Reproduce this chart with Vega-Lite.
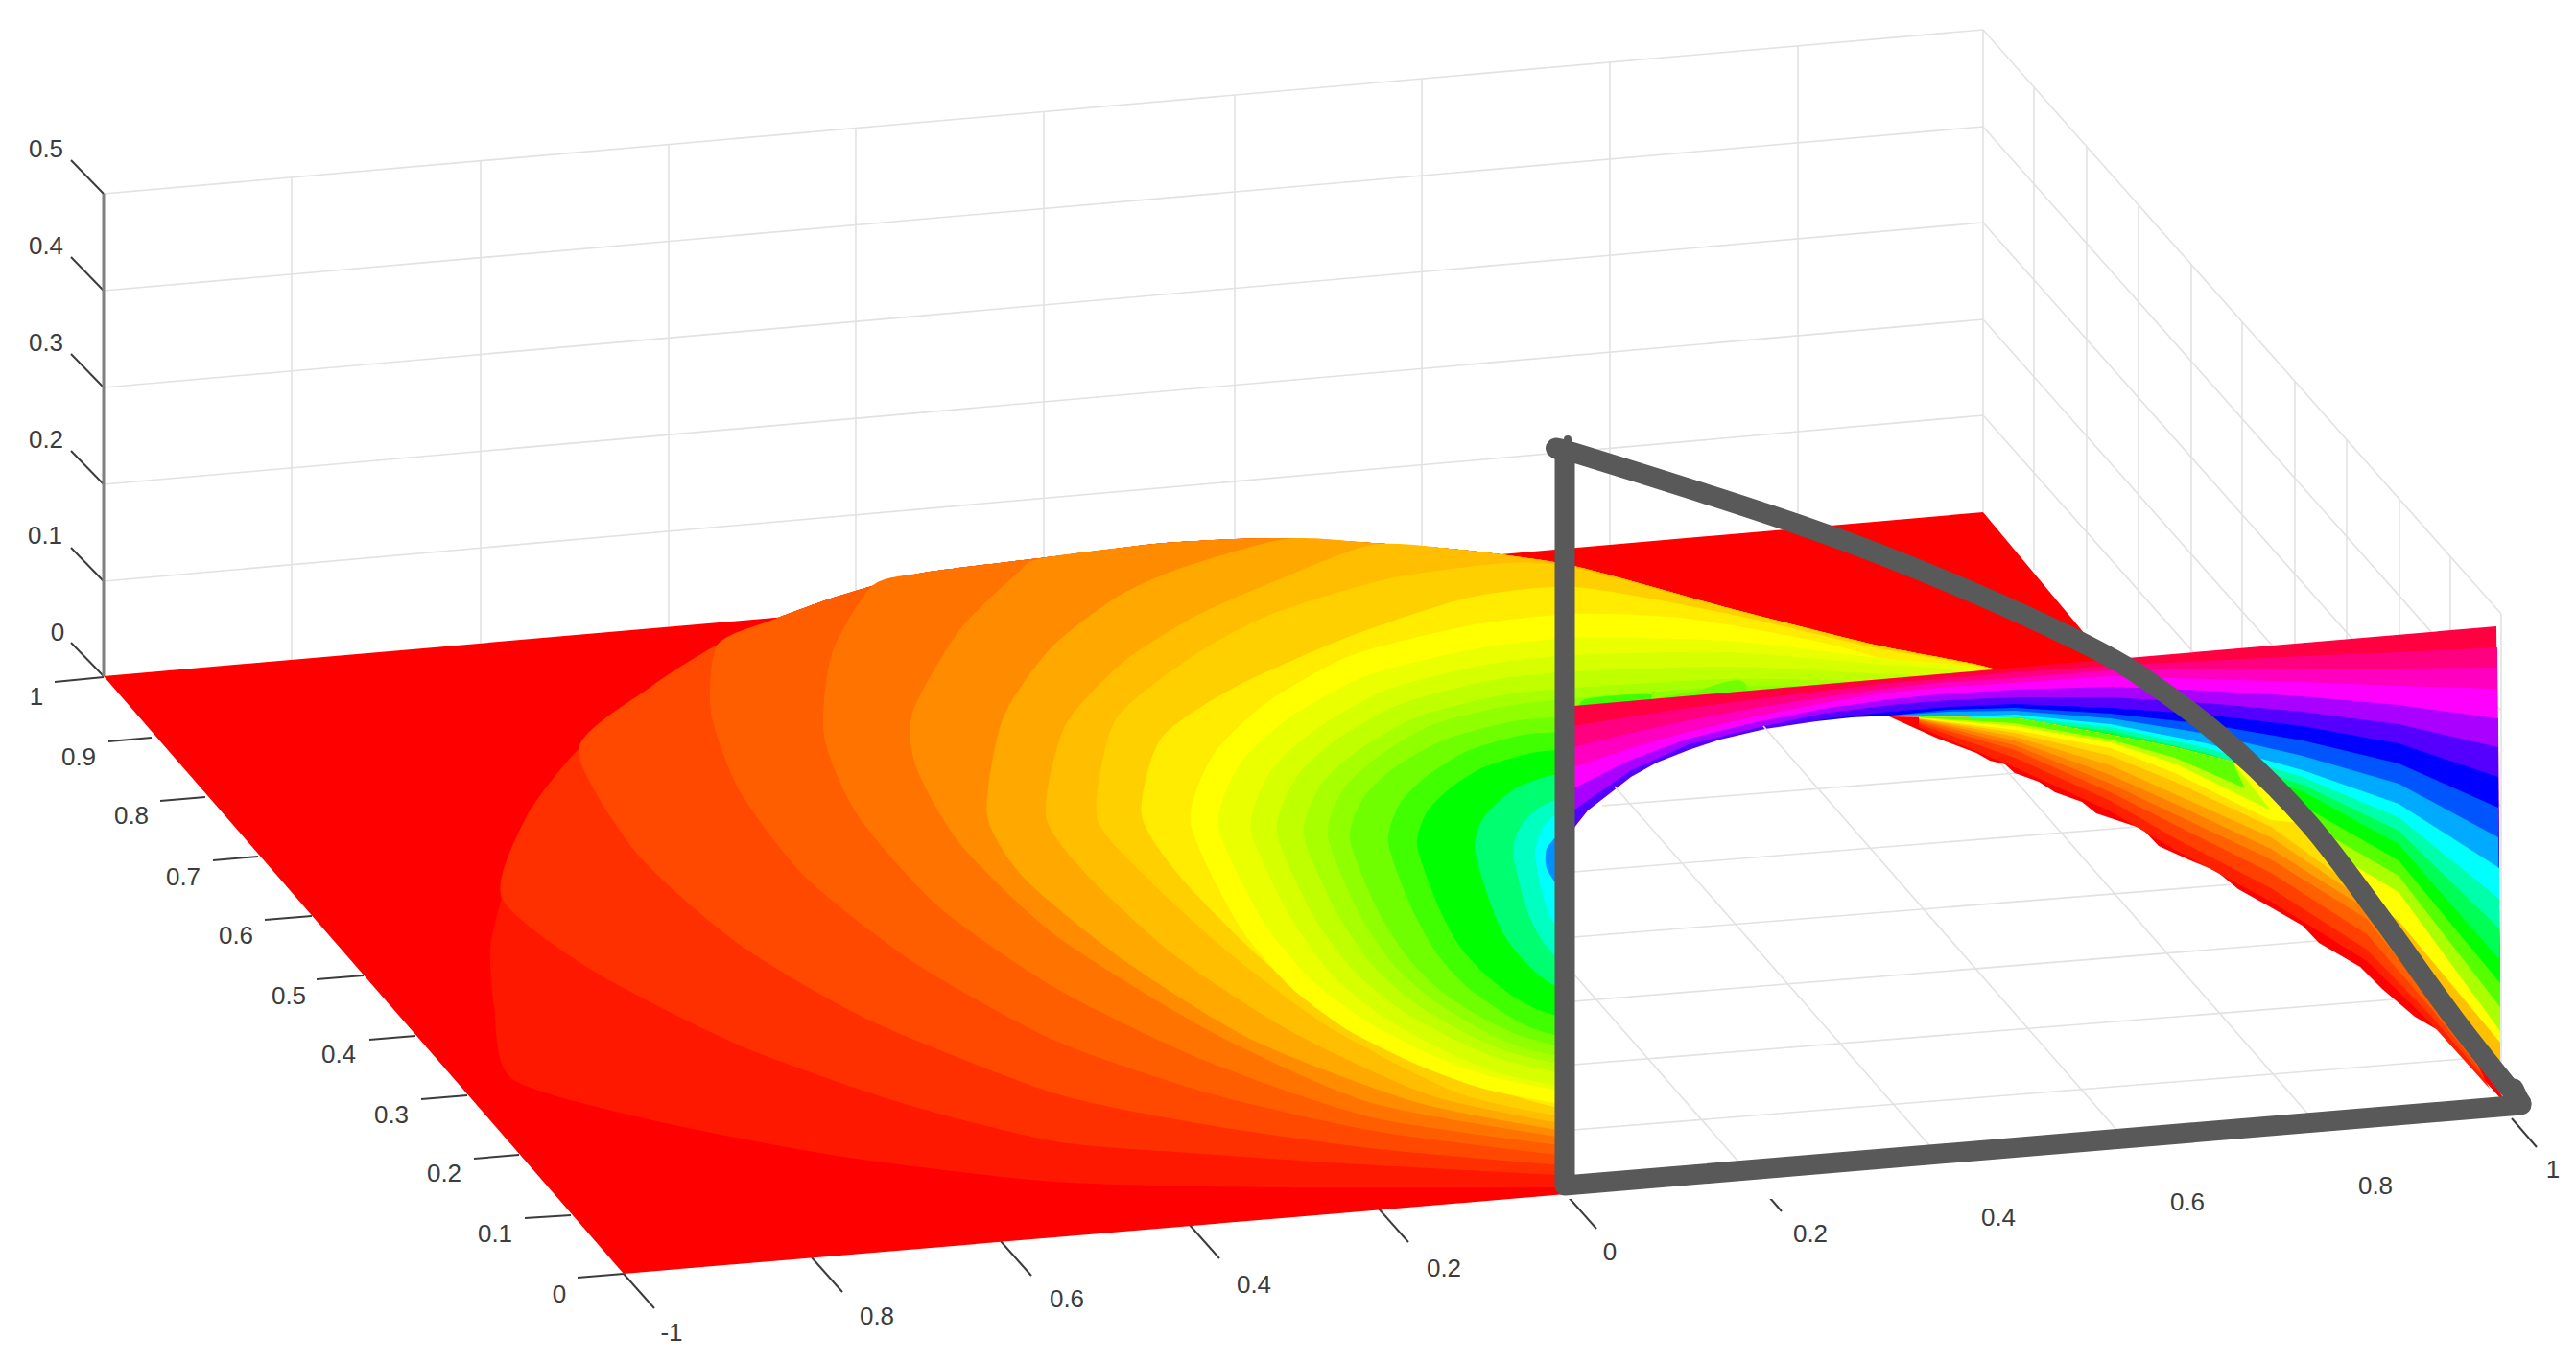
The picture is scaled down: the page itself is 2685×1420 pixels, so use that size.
{
"$schema":"https://vega.github.io/schema/vega-lite/v6.json",
"width":2685,"height":1420,"padding":0,"autosize":{"type":"fit","contains":"padding"},"background":"white",
"config":{"view":{"stroke":null}},
"datasets":{
"wallGrid":[
{"g":"z1","x":108,"y":606},{"g":"z1","x":2067,"y":433},{"g":"z1","x":2607,"y":1042},
{"g":"z2","x":108,"y":505},{"g":"z2","x":2067,"y":333},{"g":"z2","x":2607,"y":942},
{"g":"z3","x":108,"y":404},{"g":"z3","x":2067,"y":232},{"g":"z3","x":2607,"y":841},
{"g":"z4","x":108,"y":303},{"g":"z4","x":2067,"y":132},{"g":"z4","x":2607,"y":741},
{"g":"z5","x":108,"y":202},{"g":"z5","x":2067,"y":31},{"g":"z5","x":2607,"y":640},
{"g":"v1","x":304,"y":185},{"g":"v1","x":304,"y":688},
{"g":"v2","x":501,"y":168},{"g":"v2","x":501,"y":671},
{"g":"v3","x":697,"y":151},{"g":"v3","x":697,"y":654},
{"g":"v4","x":892,"y":134},{"g":"v4","x":892,"y":637},
{"g":"v5","x":1088,"y":116},{"g":"v5","x":1088,"y":619},
{"g":"v6","x":1287,"y":99},{"g":"v6","x":1287,"y":602},
{"g":"v7","x":1482,"y":82},{"g":"v7","x":1482,"y":585},
{"g":"v8","x":1678,"y":65},{"g":"v8","x":1678,"y":568},
{"g":"v9","x":1874,"y":48},{"g":"v9","x":1874,"y":551},
{"g":"v10","x":2067,"y":31},{"g":"v10","x":2067,"y":534},
{"g":"r1","x":2120,"y":91},{"g":"r1","x":2120,"y":594},
{"g":"r2","x":2175,"y":153},{"g":"r2","x":2175,"y":656},
{"g":"r3","x":2229,"y":214},{"g":"r3","x":2229,"y":717},
{"g":"r4","x":2284,"y":276},{"g":"r4","x":2284,"y":779},
{"g":"r5","x":2337,"y":336},{"g":"r5","x":2337,"y":839},
{"g":"r6","x":2392,"y":398},{"g":"r6","x":2392,"y":901},
{"g":"r7","x":2446,"y":459},{"g":"r7","x":2446,"y":962},
{"g":"r8","x":2501,"y":521},{"g":"r8","x":2501,"y":1024},
{"g":"r9","x":2554,"y":580},{"g":"r9","x":2554,"y":1083},
{"g":"r10","x":2607,"y":640},{"g":"r10","x":2607,"y":1143}
],
"holeGrid":[
{"g":"a2","x":1825,"y":1226},{"g":"a2","x":1640,"y":1015},
{"g":"a4","x":2025,"y":1210},{"g":"a4","x":1683,"y":820},
{"g":"a6","x":2222,"y":1196},{"g":"a6","x":1838,"y":757},
{"g":"a8","x":2422,"y":1180},{"g":"a8","x":2049,"y":755},
{"g":"b1","x":1640,"y":1178},{"g":"b1","x":2580,"y":1103},
{"g":"b2","x":1640,"y":1110},{"g":"b2","x":2520,"y":1040},
{"g":"b3","x":1640,"y":1044},{"g":"b3","x":2440,"y":979},
{"g":"b4","x":1640,"y":977},{"g":"b4","x":2340,"y":921},
{"g":"b5","x":1640,"y":909},{"g":"b5","x":2240,"y":861},
{"g":"b6","x":1670,"y":840},{"g":"b6","x":2140,"y":803}
],
"ticks":[
{"g":"t5","x":108,"y":202},{"g":"t5","x":74,"y":167},
{"g":"t4","x":108,"y":303},{"g":"t4","x":74,"y":268},
{"g":"t3","x":108,"y":404},{"g":"t3","x":74,"y":369},
{"g":"t2","x":108,"y":505},{"g":"t2","x":74,"y":470},
{"g":"t1","x":108,"y":606},{"g":"t1","x":74,"y":571},
{"g":"t0","x":108,"y":705},{"g":"t0","x":74,"y":670},
{"g":"y10","x":108,"y":706},{"g":"y10","x":57,"y":711},
{"g":"y9","x":158,"y":769},{"g":"y9","x":113,"y":773},
{"g":"y8","x":214,"y":831},{"g":"y8","x":167,"y":835},
{"g":"y7","x":269,"y":893},{"g":"y7","x":222,"y":897},
{"g":"y6","x":325,"y":955},{"g":"y6","x":276,"y":959},
{"g":"y5","x":379,"y":1017},{"g":"y5","x":330,"y":1021},
{"g":"y4","x":433,"y":1080},{"g":"y4","x":385,"y":1084},
{"g":"y3","x":487,"y":1142},{"g":"y3","x":439,"y":1146},
{"g":"y2","x":541,"y":1204},{"g":"y2","x":494,"y":1208},
{"g":"y1","x":595,"y":1267},{"g":"y1","x":547,"y":1270},
{"g":"y0","x":650,"y":1328},{"g":"y0","x":602,"y":1332},
{"g":"x0","x":650,"y":1328},{"g":"x0","x":682,"y":1364},
{"g":"x1","x":846,"y":1311},{"g":"x1","x":878,"y":1347},
{"g":"x2","x":1043,"y":1294},{"g":"x2","x":1075,"y":1330},
{"g":"x3","x":1239,"y":1276},{"g":"x3","x":1271,"y":1312},
{"g":"x4","x":1436,"y":1259},{"g":"x4","x":1468,"y":1295},
{"g":"x5","x":1632,"y":1245},{"g":"x5","x":1664,"y":1281},
{"g":"x6","x":1825,"y":1226},{"g":"x6","x":1857,"y":1263},
{"g":"x7","x":2025,"y":1210},{"g":"x7","x":2057,"y":1247},
{"g":"x8","x":2222,"y":1196},{"g":"x8","x":2254,"y":1233},
{"g":"x9","x":2422,"y":1180},{"g":"x9","x":2454,"y":1217},
{"g":"x10","x":2618,"y":1166},{"g":"x10","x":2644,"y":1196}
],
"floor":[{"x":108,"y":705},{"x":2067,"y":534},{"x":2300,"y":813},{"x":1650,"y":1200},{"x":1632,"y":1245},{"x":650,"y":1328}],
"disc":[
{"level":"d01","x":1642,"y":1238},{"level":"d01","x":1330,"y":1238},{"level":"d01","x":1100,"y":1232},{"level":"d01","x":879,"y":1206},{"level":"d01","x":680,"y":1168},{"level":"d01","x":534,"y":1125},{"level":"d01","x":515,"y":1050},{"level":"d01","x":511,"y":988},{"level":"d01","x":523,"y":936},{"level":"d01","x":549,"y":851},{"level":"d01","x":603,"y":781},{"level":"d01","x":680,"y":715},{"level":"d01","x":748,"y":672},{"level":"d01","x":806,"y":646},{"level":"d01","x":863,"y":625},{"level":"d01","x":909,"y":611},{"level":"d01","x":963,"y":597},{"level":"d01","x":1100,"y":580},{"level":"d01","x":1215,"y":566},{"level":"d01","x":1330,"y":561},{"level":"d01","x":1430,"y":566},{"level":"d01","x":1521,"y":573},{"level":"d01","x":1640,"y":590},{"level":"d01","x":1802,"y":634},{"level":"d01","x":1953,"y":672},{"level":"d01","x":2082,"y":699},{"level":"d01","x":2082,"y":730},{"level":"d01","x":1700,"y":1000},
{"level":"d02","x":1642,"y":1226},{"level":"d02","x":1437,"y":1215},{"level":"d02","x":1254,"y":1203},{"level":"d02","x":1100,"y":1190},{"level":"d02","x":940,"y":1150},{"level":"d02","x":771,"y":1090},{"level":"d02","x":618,"y":1012},{"level":"d02","x":523,"y":936},{"level":"d02","x":549,"y":851},{"level":"d02","x":603,"y":781},{"level":"d02","x":680,"y":715},{"level":"d02","x":748,"y":672},{"level":"d02","x":806,"y":646},{"level":"d02","x":863,"y":625},{"level":"d02","x":909,"y":611},{"level":"d02","x":963,"y":597},{"level":"d02","x":1100,"y":580},{"level":"d02","x":1215,"y":566},{"level":"d02","x":1330,"y":561},{"level":"d02","x":1430,"y":566},{"level":"d02","x":1521,"y":573},{"level":"d02","x":1640,"y":590},{"level":"d02","x":1802,"y":634},{"level":"d02","x":1953,"y":672},{"level":"d02","x":2082,"y":699},{"level":"d02","x":2082,"y":730},{"level":"d02","x":1700,"y":1000},
{"level":"d03","x":1642,"y":1216},{"level":"d03","x":1437,"y":1198},{"level":"d03","x":1254,"y":1172},{"level":"d03","x":1100,"y":1140},{"level":"d03","x":909,"y":1065},{"level":"d03","x":771,"y":985},{"level":"d03","x":664,"y":890},{"level":"d03","x":603,"y":781},{"level":"d03","x":680,"y":715},{"level":"d03","x":748,"y":672},{"level":"d03","x":806,"y":646},{"level":"d03","x":863,"y":625},{"level":"d03","x":909,"y":611},{"level":"d03","x":963,"y":597},{"level":"d03","x":1100,"y":580},{"level":"d03","x":1215,"y":566},{"level":"d03","x":1330,"y":561},{"level":"d03","x":1430,"y":566},{"level":"d03","x":1521,"y":573},{"level":"d03","x":1640,"y":590},{"level":"d03","x":1802,"y":634},{"level":"d03","x":1953,"y":672},{"level":"d03","x":2082,"y":699},{"level":"d03","x":2082,"y":730},{"level":"d03","x":1700,"y":1000},
{"level":"d04","x":1642,"y":1206},{"level":"d04","x":1437,"y":1180},{"level":"d04","x":1261,"y":1140},{"level":"d04","x":1100,"y":1085},{"level":"d04","x":955,"y":1005},{"level":"d04","x":840,"y":915},{"level":"d04","x":771,"y":825},{"level":"d04","x":741,"y":743},{"level":"d04","x":748,"y":672},{"level":"d04","x":806,"y":646},{"level":"d04","x":863,"y":625},{"level":"d04","x":909,"y":611},{"level":"d04","x":963,"y":597},{"level":"d04","x":1100,"y":580},{"level":"d04","x":1215,"y":566},{"level":"d04","x":1330,"y":561},{"level":"d04","x":1430,"y":566},{"level":"d04","x":1521,"y":573},{"level":"d04","x":1640,"y":590},{"level":"d04","x":1802,"y":634},{"level":"d04","x":1953,"y":672},{"level":"d04","x":2082,"y":699},{"level":"d04","x":2082,"y":730},{"level":"d04","x":1700,"y":1000},
{"level":"d05","x":1642,"y":1196},{"level":"d05","x":1430,"y":1165},{"level":"d05","x":1254,"y":1105},{"level":"d05","x":1100,"y":1030},{"level":"d05","x":978,"y":945},{"level":"d05","x":894,"y":850},{"level":"d05","x":859,"y":767},{"level":"d05","x":867,"y":682},{"level":"d05","x":909,"y":611},{"level":"d05","x":963,"y":597},{"level":"d05","x":1100,"y":580},{"level":"d05","x":1215,"y":566},{"level":"d05","x":1330,"y":561},{"level":"d05","x":1430,"y":566},{"level":"d05","x":1521,"y":573},{"level":"d05","x":1640,"y":590},{"level":"d05","x":1802,"y":634},{"level":"d05","x":1953,"y":672},{"level":"d05","x":2082,"y":699},{"level":"d05","x":2082,"y":730},{"level":"d05","x":1700,"y":1000},
{"level":"d06","x":1642,"y":1188},{"level":"d06","x":1430,"y":1150},{"level":"d06","x":1261,"y":1075},{"level":"d06","x":1100,"y":975},{"level":"d06","x":1001,"y":880},{"level":"d06","x":955,"y":800},{"level":"d06","x":951,"y":743},{"level":"d06","x":1000,"y":657},{"level":"d06","x":1061,"y":597},{"level":"d06","x":1086,"y":582},{"level":"d06","x":1215,"y":566},{"level":"d06","x":1330,"y":561},{"level":"d06","x":1430,"y":566},{"level":"d06","x":1521,"y":573},{"level":"d06","x":1640,"y":590},{"level":"d06","x":1802,"y":634},{"level":"d06","x":1953,"y":672},{"level":"d06","x":2082,"y":699},{"level":"d06","x":2082,"y":730},{"level":"d06","x":1700,"y":1000},
{"level":"d07","x":1642,"y":1181},{"level":"d07","x":1479,"y":1150},{"level":"d07","x":1307,"y":1085},{"level":"d07","x":1177,"y":1005},{"level":"d07","x":1070,"y":918},{"level":"d07","x":1029,"y":850},{"level":"d07","x":1045,"y":750},{"level":"d07","x":1094,"y":677},{"level":"d07","x":1163,"y":623},{"level":"d07","x":1229,"y":593},{"level":"d07","x":1339,"y":562},{"level":"d07","x":1430,"y":566},{"level":"d07","x":1521,"y":573},{"level":"d07","x":1640,"y":590},{"level":"d07","x":1802,"y":634},{"level":"d07","x":1953,"y":672},{"level":"d07","x":2082,"y":699},{"level":"d07","x":2082,"y":730},{"level":"d07","x":1700,"y":1000},
{"level":"d08","x":1642,"y":1174},{"level":"d08","x":1491,"y":1142},{"level":"d08","x":1345,"y":1075},{"level":"d08","x":1223,"y":995},{"level":"d08","x":1131,"y":910},{"level":"d08","x":1090,"y":850},{"level":"d08","x":1110,"y":757},{"level":"d08","x":1171,"y":690},{"level":"d08","x":1245,"y":643},{"level":"d08","x":1326,"y":607},{"level":"d08","x":1430,"y":568},{"level":"d08","x":1521,"y":573},{"level":"d08","x":1640,"y":590},{"level":"d08","x":1802,"y":634},{"level":"d08","x":1953,"y":672},{"level":"d08","x":2082,"y":699},{"level":"d08","x":2082,"y":730},{"level":"d08","x":1700,"y":1000},
{"level":"d09","x":1642,"y":1167},{"level":"d09","x":1521,"y":1140},{"level":"d09","x":1384,"y":1070},{"level":"d09","x":1277,"y":990},{"level":"d09","x":1185,"y":905},{"level":"d09","x":1143,"y":850},{"level":"d09","x":1163,"y":750},{"level":"d09","x":1245,"y":683},{"level":"d09","x":1326,"y":640},{"level":"d09","x":1449,"y":603},{"level":"d09","x":1571,"y":587},{"level":"d09","x":1640,"y":592},{"level":"d09","x":1802,"y":634},{"level":"d09","x":1953,"y":672},{"level":"d09","x":2082,"y":699},{"level":"d09","x":2082,"y":730},{"level":"d09","x":1700,"y":1000},
{"level":"d10","x":1642,"y":1160},{"level":"d10","x":1537,"y":1130},{"level":"d10","x":1414,"y":1075},{"level":"d10","x":1315,"y":1000},{"level":"d10","x":1231,"y":915},{"level":"d10","x":1190,"y":850},{"level":"d10","x":1210,"y":770},{"level":"d10","x":1286,"y":717},{"level":"d10","x":1408,"y":663},{"level":"d10","x":1531,"y":623},{"level":"d10","x":1642,"y":612},{"level":"d10","x":1802,"y":640},{"level":"d10","x":1953,"y":675},{"level":"d10","x":2082,"y":699},{"level":"d10","x":2082,"y":730},{"level":"d10","x":1700,"y":1000},
{"level":"d11","x":1642,"y":1154},{"level":"d11","x":1550,"y":1136},{"level":"d11","x":1482,"y":1112},{"level":"d11","x":1405,"y":1074},{"level":"d11","x":1343,"y":1027},{"level":"d11","x":1289,"y":961},{"level":"d11","x":1241,"y":858},{"level":"d11","x":1265,"y":786},{"level":"d11","x":1321,"y":732},{"level":"d11","x":1409,"y":683},{"level":"d11","x":1532,"y":652},{"level":"d11","x":1642,"y":640},{"level":"d11","x":1760,"y":645},{"level":"d11","x":1900,"y":670},{"level":"d11","x":1980,"y":695},{"level":"d11","x":1980,"y":730},{"level":"d11","x":1700,"y":1000},
{"level":"d12","x":1642,"y":1140},{"level":"d12","x":1556,"y":1123},{"level":"d12","x":1493,"y":1100},{"level":"d12","x":1423,"y":1064},{"level":"d12","x":1365,"y":1020},{"level":"d12","x":1315,"y":958},{"level":"d12","x":1270,"y":862},{"level":"d12","x":1292,"y":797},{"level":"d12","x":1344,"y":748},{"level":"d12","x":1426,"y":704},{"level":"d12","x":1540,"y":676},{"level":"d12","x":1642,"y":665},{"level":"d12","x":1800,"y":668},{"level":"d12","x":1950,"y":685},{"level":"d12","x":2060,"y":697},{"level":"d12","x":2060,"y":730},{"level":"d12","x":1700,"y":1000},
{"level":"d13","x":1642,"y":1135},{"level":"d13","x":1564,"y":1119},{"level":"d13","x":1507,"y":1096},{"level":"d13","x":1443,"y":1061},{"level":"d13","x":1390,"y":1018},{"level":"d13","x":1345,"y":956},{"level":"d13","x":1304,"y":865},{"level":"d13","x":1324,"y":805},{"level":"d13","x":1372,"y":760},{"level":"d13","x":1446,"y":719},{"level":"d13","x":1549,"y":693},{"level":"d13","x":1642,"y":683},{"level":"d13","x":1800,"y":680},{"level":"d13","x":1950,"y":692},{"level":"d13","x":2040,"y":700},{"level":"d13","x":2040,"y":730},{"level":"d13","x":1700,"y":1000},
{"level":"d14","x":1642,"y":1122},{"level":"d14","x":1570,"y":1106},{"level":"d14","x":1518,"y":1085},{"level":"d14","x":1459,"y":1052},{"level":"d14","x":1410,"y":1011},{"level":"d14","x":1368,"y":953},{"level":"d14","x":1331,"y":868},{"level":"d14","x":1350,"y":812},{"level":"d14","x":1393,"y":771},{"level":"d14","x":1462,"y":733},{"level":"d14","x":1556,"y":709},{"level":"d14","x":1642,"y":700},{"level":"d14","x":1800,"y":695},{"level":"d14","x":1950,"y":702},{"level":"d14","x":2000,"y":706},{"level":"d14","x":2000,"y":735},{"level":"d14","x":1700,"y":1000},
{"level":"d15","x":1642,"y":1113},{"level":"d15","x":1577,"y":1098},{"level":"d15","x":1529,"y":1078},{"level":"d15","x":1475,"y":1046},{"level":"d15","x":1431,"y":1007},{"level":"d15","x":1393,"y":951},{"level":"d15","x":1359,"y":871},{"level":"d15","x":1376,"y":819},{"level":"d15","x":1416,"y":782},{"level":"d15","x":1478,"y":747},{"level":"d15","x":1564,"y":725},{"level":"d15","x":1642,"y":717},{"level":"d15","x":1800,"y":708},{"level":"d15","x":1950,"y":712},{"level":"d15","x":1950,"y":735},{"level":"d15","x":1700,"y":1000},
{"level":"d16","x":1642,"y":1105},{"level":"d16","x":1583,"y":1091},{"level":"d16","x":1539,"y":1071},{"level":"d16","x":1490,"y":1040},{"level":"d16","x":1450,"y":1003},{"level":"d16","x":1415,"y":949},{"level":"d16","x":1384,"y":872},{"level":"d16","x":1399,"y":824},{"level":"d16","x":1436,"y":789},{"level":"d16","x":1492,"y":756},{"level":"d16","x":1571,"y":736},{"level":"d16","x":1642,"y":728},{"level":"d16","x":1800,"y":716},{"level":"d16","x":1880,"y":716},{"level":"d16","x":1880,"y":735},{"level":"d16","x":1700,"y":1000},
{"level":"d17","x":1642,"y":1095},{"level":"d17","x":1588,"y":1081},{"level":"d17","x":1548,"y":1063},{"level":"d17","x":1503,"y":1034},{"level":"d17","x":1467,"y":998},{"level":"d17","x":1435,"y":947},{"level":"d17","x":1407,"y":875},{"level":"d17","x":1421,"y":832},{"level":"d17","x":1454,"y":800},{"level":"d17","x":1506,"y":771},{"level":"d17","x":1577,"y":752},{"level":"d17","x":1642,"y":745},{"level":"d17","x":1760,"y":722},{"level":"d17","x":1820,"y":725},{"level":"d17","x":1700,"y":1000},
{"level":"d18","x":1642,"y":1085},{"level":"d18","x":1597,"y":1072},{"level":"d18","x":1564,"y":1054},{"level":"d18","x":1527,"y":1027},{"level":"d18","x":1497,"y":993},{"level":"d18","x":1470,"y":944},{"level":"d18","x":1447,"y":878},{"level":"d18","x":1459,"y":838},{"level":"d18","x":1486,"y":810},{"level":"d18","x":1529,"y":783},{"level":"d18","x":1588,"y":766},{"level":"d18","x":1642,"y":760},{"level":"d18","x":1650,"y":730},{"level":"d18","x":1720,"y":724},{"level":"d18","x":1720,"y":740},{"level":"d18","x":1700,"y":1000},
{"level":"d19","x":1642,"y":1065},{"level":"d19","x":1604,"y":1053},{"level":"d19","x":1576,"y":1038},{"level":"d19","x":1545,"y":1013},{"level":"d19","x":1519,"y":983},{"level":"d19","x":1497,"y":940},{"level":"d19","x":1477,"y":881},{"level":"d19","x":1487,"y":847},{"level":"d19","x":1510,"y":823},{"level":"d19","x":1546,"y":800},{"level":"d19","x":1597,"y":785},{"level":"d19","x":1642,"y":780},
{"level":"d20","x":1642,"y":1035},{"level":"d20","x":1618,"y":1026},{"level":"d20","x":1600,"y":1013},{"level":"d20","x":1580,"y":992},{"level":"d20","x":1564,"y":968},{"level":"d20","x":1550,"y":932},{"level":"d20","x":1537,"y":885},{"level":"d20","x":1543,"y":858},{"level":"d20","x":1558,"y":839},{"level":"d20","x":1581,"y":821},{"level":"d20","x":1613,"y":809},{"level":"d20","x":1642,"y":805},
{"level":"d21","x":1642,"y":1010},{"level":"d21","x":1627,"y":1002},{"level":"d21","x":1616,"y":992},{"level":"d21","x":1604,"y":975},{"level":"d21","x":1594,"y":955},{"level":"d21","x":1585,"y":926},{"level":"d21","x":1577,"y":889},{"level":"d21","x":1581,"y":869},{"level":"d21","x":1590,"y":855},{"level":"d21","x":1604,"y":842},{"level":"d21","x":1624,"y":833},{"level":"d21","x":1642,"y":830},
{"level":"d22","x":1642,"y":985},{"level":"d22","x":1632,"y":979},{"level":"d22","x":1625,"y":971},{"level":"d22","x":1617,"y":958},{"level":"d22","x":1611,"y":943},{"level":"d22","x":1605,"y":920},{"level":"d22","x":1600,"y":891},{"level":"d22","x":1603,"y":875},{"level":"d22","x":1608,"y":863},{"level":"d22","x":1618,"y":852},{"level":"d22","x":1630,"y":846},{"level":"d22","x":1642,"y":843},
{"level":"d23","x":1642,"y":935},{"level":"d23","x":1625,"y":925},{"level":"d23","x":1612,"y":905},{"level":"d23","x":1612,"y":885},{"level":"d23","x":1625,"y":870},{"level":"d23","x":1642,"y":862}
],
"wall":[
{"level":"w00","x":1640,"y":736},{"level":"w00","x":2100,"y":696},{"level":"w00","x":2602,"y":653},{"level":"w00","x":2606,"y":1110},{"level":"w00","x":1640,"y":1110},
{"level":"w01","x":1640,"y":757},{"level":"w01","x":1700,"y":747},{"level":"w01","x":1760,"y":738},{"level":"w01","x":1830,"y":729},{"level":"w01","x":1900,"y":720},{"level":"w01","x":1970,"y":712},{"level":"w01","x":2030,"y":707},{"level":"w01","x":2100,"y":701},{"level":"w01","x":2200,"y":694},{"level":"w01","x":2300,"y":689},{"level":"w01","x":2400,"y":684},{"level":"w01","x":2500,"y":680},{"level":"w01","x":2603,"y":675},{"level":"w01","x":2606,"y":1110},{"level":"w01","x":1640,"y":1110},
{"level":"w02","x":1640,"y":779},{"level":"w02","x":1700,"y":764},{"level":"w02","x":1760,"y":751},{"level":"w02","x":1830,"y":738},{"level":"w02","x":1900,"y":727},{"level":"w02","x":1970,"y":717},{"level":"w02","x":2030,"y":711},{"level":"w02","x":2100,"y":707},{"level":"w02","x":2200,"y":699},{"level":"w02","x":2300,"y":698},{"level":"w02","x":2400,"y":697},{"level":"w02","x":2500,"y":697},{"level":"w02","x":2603,"y":696},{"level":"w02","x":2606,"y":1110},{"level":"w02","x":1640,"y":1110},
{"level":"w03","x":1640,"y":800},{"level":"w03","x":1700,"y":780},{"level":"w03","x":1760,"y":763},{"level":"w03","x":1830,"y":747},{"level":"w03","x":1900,"y":733},{"level":"w03","x":1970,"y":722},{"level":"w03","x":2030,"y":716},{"level":"w03","x":2100,"y":712},{"level":"w03","x":2200,"y":705},{"level":"w03","x":2300,"y":708},{"level":"w03","x":2400,"y":711},{"level":"w03","x":2500,"y":715},{"level":"w03","x":2603,"y":718},{"level":"w03","x":2606,"y":1110},{"level":"w03","x":1640,"y":1110},
{"level":"w04","x":1640,"y":822},{"level":"w04","x":1700,"y":792},{"level":"w04","x":1760,"y":770},{"level":"w04","x":1830,"y":753},{"level":"w04","x":1900,"y":739},{"level":"w04","x":1970,"y":729},{"level":"w04","x":2030,"y":723},{"level":"w04","x":2100,"y":719},{"level":"w04","x":2200,"y":716},{"level":"w04","x":2300,"y":720},{"level":"w04","x":2400,"y":726},{"level":"w04","x":2500,"y":735},{"level":"w04","x":2604,"y":749},{"level":"w04","x":2606,"y":1110},{"level":"w04","x":1640,"y":1110},
{"level":"w05","x":1640,"y":845},{"level":"w05","x":1700,"y":803},{"level":"w05","x":1760,"y":776},{"level":"w05","x":1830,"y":759},{"level":"w05","x":1900,"y":744},{"level":"w05","x":1970,"y":735},{"level":"w05","x":2030,"y":730},{"level":"w05","x":2100,"y":727},{"level":"w05","x":2200,"y":727},{"level":"w05","x":2300,"y":733},{"level":"w05","x":2400,"y":742},{"level":"w05","x":2500,"y":755},{"level":"w05","x":2604,"y":779},{"level":"w05","x":2606,"y":1110},{"level":"w05","x":1640,"y":1110},
{"level":"w06","x":1640,"y":867},{"level":"w06","x":1700,"y":815},{"level":"w06","x":1760,"y":783},{"level":"w06","x":1830,"y":765},{"level":"w06","x":1900,"y":750},{"level":"w06","x":1970,"y":742},{"level":"w06","x":2030,"y":737},{"level":"w06","x":2100,"y":734},{"level":"w06","x":2200,"y":738},{"level":"w06","x":2300,"y":745},{"level":"w06","x":2400,"y":757},{"level":"w06","x":2500,"y":775},{"level":"w06","x":2604,"y":810},{"level":"w06","x":2606,"y":1110},{"level":"w06","x":1640,"y":1110},
{"level":"w07","x":1960,"y":747},{"level":"w07","x":2030,"y":740},{"level":"w07","x":2100,"y":738},{"level":"w07","x":2200,"y":744},{"level":"w07","x":2300,"y":755},{"level":"w07","x":2400,"y":772},{"level":"w07","x":2500,"y":796},{"level":"w07","x":2604,"y":842},{"level":"w07","x":2606,"y":1110},{"level":"w07","x":2030,"y":1110},
{"level":"w08","x":1960,"y":747},{"level":"w08","x":2030,"y":742},{"level":"w08","x":2100,"y":741},{"level":"w08","x":2200,"y":749},{"level":"w08","x":2300,"y":765},{"level":"w08","x":2400,"y":788},{"level":"w08","x":2500,"y":817},{"level":"w08","x":2604,"y":873},{"level":"w08","x":2606,"y":1110},{"level":"w08","x":2030,"y":1110},
{"level":"w09","x":2030,"y":748},{"level":"w09","x":2100,"y":745},{"level":"w09","x":2200,"y":755},{"level":"w09","x":2300,"y":775},{"level":"w09","x":2400,"y":803},{"level":"w09","x":2500,"y":838},{"level":"w09","x":2605,"y":905},{"level":"w09","x":2606,"y":1110},{"level":"w09","x":2100,"y":1110},
{"level":"w10","x":2060,"y":749},{"level":"w10","x":2100,"y":747},{"level":"w10","x":2200,"y":758},{"level":"w10","x":2300,"y":780},{"level":"w10","x":2400,"y":810},{"level":"w10","x":2500,"y":852},{"level":"w10","x":2605,"y":937},{"level":"w10","x":2606,"y":1110},{"level":"w10","x":2100,"y":1110},
{"level":"w11","x":2100,"y":750},{"level":"w11","x":2200,"y":762},{"level":"w11","x":2300,"y":785},{"level":"w11","x":2400,"y":818},{"level":"w11","x":2500,"y":866},{"level":"w11","x":2605,"y":968},{"level":"w11","x":2606,"y":1110},{"level":"w11","x":2100,"y":1110},
{"level":"w12","x":2100,"y":752},{"level":"w12","x":2200,"y":765},{"level":"w12","x":2300,"y":790},{"level":"w12","x":2400,"y":825},{"level":"w12","x":2500,"y":880},{"level":"w12","x":2605,"y":1000},{"level":"w12","x":2606,"y":1110},{"level":"w12","x":2100,"y":1110},
{"level":"w13","x":2100,"y":754},{"level":"w13","x":2200,"y":767},{"level":"w13","x":2300,"y":795},{"level":"w13","x":2400,"y":840},{"level":"w13","x":2500,"y":897},{"level":"w13","x":2606,"y":1025},{"level":"w13","x":2606,"y":1110},{"level":"w13","x":2100,"y":1110},
{"level":"w14","x":2100,"y":755},{"level":"w14","x":2200,"y":770},{"level":"w14","x":2300,"y":800},{"level":"w14","x":2400,"y":855},{"level":"w14","x":2500,"y":913},{"level":"w14","x":2606,"y":1050},{"level":"w14","x":2606,"y":1110},{"level":"w14","x":2100,"y":1110},
{"level":"w15","x":2100,"y":757},{"level":"w15","x":2200,"y":772},{"level":"w15","x":2300,"y":805},{"level":"w15","x":2400,"y":870},{"level":"w15","x":2500,"y":930},{"level":"w15","x":2606,"y":1075},{"level":"w15","x":2606,"y":1110},{"level":"w15","x":2100,"y":1110},
{"level":"w16","x":2300,"y":812},{"level":"w16","x":2400,"y":885},{"level":"w16","x":2500,"y":960},{"level":"w16","x":2606,"y":1087},{"level":"w16","x":2606,"y":1110},{"level":"w16","x":2300,"y":1110}
],
"cover":[{"x":1640,"y":864},{"x":1655,"y":845},{"x":1677,"y":828},{"x":1700,"y":810},{"x":1727,"y":795},{"x":1760,"y":782},{"x":1793,"y":771},{"x":1840,"y":760},{"x":1893,"y":752},{"x":1930,"y":748},{"x":1969,"y":746},{"x":2105,"y":749},{"x":2200,"y":766},{"x":2267,"y":779},{"x":2327,"y":794},{"x":2407,"y":859},{"x":2482,"y":957},{"x":2558,"y":1062},{"x":2610,"y":1150},{"x":2610,"y":1250},{"x":1631,"y":1250},{"x":1631,"y":864}],
"sliver":[
{"level":"s00","x":1969,"y":747},{"level":"s00","x":2020,"y":770},{"level":"s00","x":2060,"y":785},{"level":"s00","x":2074,"y":793},{"level":"s00","x":2090,"y":797},{"level":"s00","x":2100,"y":806},{"level":"s00","x":2125,"y":815},{"level":"s00","x":2142,"y":826},{"level":"s00","x":2170,"y":836},{"level":"s00","x":2185,"y":848},{"level":"s00","x":2200,"y":853},{"level":"s00","x":2233,"y":864},{"level":"s00","x":2250,"y":882},{"level":"s00","x":2283,"y":897},{"level":"s00","x":2310,"y":908},{"level":"s00","x":2333,"y":927},{"level":"s00","x":2367,"y":946},{"level":"s00","x":2400,"y":965},{"level":"s00","x":2417,"y":983},{"level":"s00","x":2460,"y":1008},{"level":"s00","x":2483,"y":1031},{"level":"s00","x":2517,"y":1060},{"level":"s00","x":2543,"y":1075},{"level":"s00","x":2567,"y":1101},{"level":"s00","x":2607,"y":1146},{"level":"s00","x":2610,"y":1146},{"level":"s00","x":2558,"y":1062},{"level":"s00","x":2482,"y":957},{"level":"s00","x":2407,"y":859},{"level":"s00","x":2327,"y":794},{"level":"s00","x":2267,"y":779},{"level":"s00","x":2200,"y":766},{"level":"s00","x":2105,"y":749},
{"level":"s01","x":2000,"y":758},{"level":"s01","x":2100,"y":800},{"level":"s01","x":2200,"y":846},{"level":"s01","x":2267,"y":886},{"level":"s01","x":2367,"y":940},{"level":"s01","x":2467,"y":1002},{"level":"s01","x":2533,"y":1066},{"level":"s01","x":2595,"y":1135},{"level":"s01","x":2558,"y":1062},{"level":"s01","x":2482,"y":957},{"level":"s01","x":2407,"y":859},{"level":"s01","x":2327,"y":794},{"level":"s01","x":2267,"y":779},{"level":"s01","x":2200,"y":766},{"level":"s01","x":2105,"y":749},{"level":"s01","x":2000,"y":747},
{"level":"s02","x":2000,"y":755},{"level":"s02","x":2100,"y":790},{"level":"s02","x":2200,"y":835},{"level":"s02","x":2267,"y":874},{"level":"s02","x":2367,"y":926},{"level":"s02","x":2467,"y":990},{"level":"s02","x":2533,"y":1058},{"level":"s02","x":2590,"y":1125},{"level":"s02","x":2558,"y":1062},{"level":"s02","x":2482,"y":957},{"level":"s02","x":2407,"y":859},{"level":"s02","x":2327,"y":794},{"level":"s02","x":2267,"y":779},{"level":"s02","x":2200,"y":766},{"level":"s02","x":2105,"y":749},{"level":"s02","x":2000,"y":747},
{"level":"s03","x":2000,"y":753},{"level":"s03","x":2100,"y":782},{"level":"s03","x":2200,"y":826},{"level":"s03","x":2267,"y":860},{"level":"s03","x":2367,"y":910},{"level":"s03","x":2467,"y":974},{"level":"s03","x":2533,"y":1050},{"level":"s03","x":2585,"y":1115},{"level":"s03","x":2558,"y":1062},{"level":"s03","x":2482,"y":957},{"level":"s03","x":2407,"y":859},{"level":"s03","x":2327,"y":794},{"level":"s03","x":2267,"y":779},{"level":"s03","x":2200,"y":766},{"level":"s03","x":2105,"y":749},{"level":"s03","x":2000,"y":747},
{"level":"s04","x":2000,"y":751},{"level":"s04","x":2100,"y":777},{"level":"s04","x":2200,"y":817},{"level":"s04","x":2267,"y":849},{"level":"s04","x":2367,"y":896},{"level":"s04","x":2467,"y":958},{"level":"s04","x":2533,"y":1042},{"level":"s04","x":2558,"y":1062},{"level":"s04","x":2482,"y":957},{"level":"s04","x":2407,"y":859},{"level":"s04","x":2327,"y":794},{"level":"s04","x":2267,"y":779},{"level":"s04","x":2200,"y":766},{"level":"s04","x":2105,"y":749},{"level":"s04","x":2000,"y":747},
{"level":"s05","x":2000,"y":750},{"level":"s05","x":2100,"y":772},{"level":"s05","x":2200,"y":808},{"level":"s05","x":2267,"y":838},{"level":"s05","x":2367,"y":885},{"level":"s05","x":2467,"y":948},{"level":"s05","x":2533,"y":1035},{"level":"s05","x":2482,"y":957},{"level":"s05","x":2407,"y":859},{"level":"s05","x":2327,"y":794},{"level":"s05","x":2267,"y":779},{"level":"s05","x":2200,"y":766},{"level":"s05","x":2105,"y":749},{"level":"s05","x":2000,"y":747},
{"level":"s06","x":2000,"y":749},{"level":"s06","x":2100,"y":768},{"level":"s06","x":2200,"y":798},{"level":"s06","x":2267,"y":828},{"level":"s06","x":2367,"y":873},{"level":"s06","x":2467,"y":940},{"level":"s06","x":2482,"y":957},{"level":"s06","x":2407,"y":859},{"level":"s06","x":2327,"y":794},{"level":"s06","x":2267,"y":779},{"level":"s06","x":2200,"y":766},{"level":"s06","x":2105,"y":749},{"level":"s06","x":2000,"y":747},
{"level":"s07","x":2000,"y":749},{"level":"s07","x":2100,"y":764},{"level":"s07","x":2200,"y":788},{"level":"s07","x":2267,"y":815},{"level":"s07","x":2367,"y":862},{"level":"s07","x":2467,"y":934},{"level":"s07","x":2407,"y":859},{"level":"s07","x":2327,"y":794},{"level":"s07","x":2267,"y":779},{"level":"s07","x":2200,"y":766},{"level":"s07","x":2105,"y":749},{"level":"s07","x":2000,"y":747},
{"level":"s08","x":2000,"y":749},{"level":"s08","x":2100,"y":761},{"level":"s08","x":2200,"y":780},{"level":"s08","x":2267,"y":806},{"level":"s08","x":2367,"y":855},{"level":"s08","x":2407,"y":859},{"level":"s08","x":2327,"y":794},{"level":"s08","x":2267,"y":779},{"level":"s08","x":2200,"y":766},{"level":"s08","x":2105,"y":749},{"level":"s08","x":2000,"y":747},
{"level":"s09","x":2000,"y":748},{"level":"s09","x":2100,"y":757},{"level":"s09","x":2200,"y":774},{"level":"s09","x":2267,"y":796},{"level":"s09","x":2367,"y":845},{"level":"s09","x":2327,"y":794},{"level":"s09","x":2267,"y":779},{"level":"s09","x":2200,"y":766},{"level":"s09","x":2105,"y":749},{"level":"s09","x":2000,"y":747},
{"level":"s10","x":2000,"y":748},{"level":"s10","x":2100,"y":754},{"level":"s10","x":2200,"y":771},{"level":"s10","x":2267,"y":790},{"level":"s10","x":2340,"y":822},{"level":"s10","x":2327,"y":794},{"level":"s10","x":2267,"y":779},{"level":"s10","x":2200,"y":766},{"level":"s10","x":2105,"y":749},{"level":"s10","x":2000,"y":747}
],
"frame":[
{"g":"base","x":1631,"y":472},{"g":"base","x":1631,"y":1236},{"g":"base","x":2628,"y":1152},{"g":"base","x":2620,"y":1135}
],
"tip":[{"x":1634,"y":458},{"x":1634,"y":480}],
"curve":[{"x":1631,"y":472},{"x":1644,"y":473},{"x":1878,"y":548},{"x":2029,"y":606},{"x":2180,"y":675},{"x":2256,"y":722},{"x":2331,"y":782},{"x":2407,"y":859},{"x":2482,"y":957},{"x":2558,"y":1062},{"x":2628,"y":1150}],
"labels":[
{"text":"0.5","x":48,"y":156},{"text":"0.4","x":48,"y":257},{"text":"0.3","x":48,"y":358},{"text":"0.2","x":48,"y":459},{"text":"0.1","x":47,"y":559},{"text":"0","x":60,"y":660},
{"text":"1","x":38,"y":727},{"text":"0.9","x":82,"y":790},{"text":"0.8","x":137,"y":851},{"text":"0.7","x":191,"y":915},{"text":"0.6","x":246,"y":976},{"text":"0.5","x":301,"y":1039},{"text":"0.4","x":353,"y":1100},{"text":"0.3","x":408,"y":1163},{"text":"0.2","x":463,"y":1224},{"text":"0.1","x":516,"y":1287},{"text":"0","x":583,"y":1350},
{"text":"-1","x":700,"y":1390},{"text":"0.8","x":914,"y":1373},{"text":"0.6","x":1112,"y":1355},{"text":"0.4","x":1307,"y":1340},{"text":"0.2","x":1505,"y":1323},{"text":"0","x":1678,"y":1306},{"text":"0.2","x":1887,"y":1287},{"text":"0.4","x":2083,"y":1270},{"text":"0.6","x":2280,"y":1254},{"text":"0.8","x":2476,"y":1237},{"text":"1","x":2661,"y":1220}
]
},
"encoding":{
"x":{"field":"x","type":"quantitative","scale":{"domain":[0,2685],"nice":false,"zero":false},"axis":null},
"y":{"field":"y","type":"quantitative","scale":{"domain":[1420,0],"nice":false,"zero":false},"axis":null}
},
"layer":[
{"data":{"name":"wallGrid"},"transform":[{"window":[{"op":"row_number","as":"seq"}]}],"mark":{"type":"line","color":"#e2e2e2","strokeWidth":1.6},"encoding":{"detail":{"field":"g"},"order":{"field":"seq","type":"quantitative"}}},
{"data":{"name":"ticks"},"transform":[{"window":[{"op":"row_number","as":"seq"}]}],"mark":{"type":"line","color":"#3c3c3c","strokeWidth":2},"encoding":{"detail":{"field":"g"},"order":{"field":"seq","type":"quantitative"}}},
{"data":{"values":[{"x":108,"y":202},{"x":108,"y":705}]},"mark":{"type":"line","color":"#808080","strokeWidth":3},"encoding":{}},
{"data":{"name":"floor"},"transform":[{"window":[{"op":"row_number","as":"seq"}]}],"mark":{"type":"line","filled":true,"color":"#ff0000"},"encoding":{"order":{"field":"seq","type":"quantitative"}}},
{"data":{"name":"disc"},"transform":[{"window":[{"op":"row_number","as":"seq"}]}],"mark":{"type":"line","filled":true,"interpolate":"cardinal","tension":0.3},"encoding":{"order":{"field":"seq","type":"quantitative"},"color":{"field":"level","type":"nominal","legend":null,"scale":{
"domain":["d01","d02","d03","d04","d05","d06","d07","d08","d09","d10","d11","d12","d13","d14","d15","d16","d17","d18","d19","d20","d21","d22","d23"],
"range":["#ff1800","#ff3000","#ff4800","#ff5e00","#ff7400","#ff8c00","#ffa800","#ffbf00","#ffd000","#ffec00","#ffff00","#eaff00","#d6ff00","#c0ff00","#a8ff00","#90ff00","#70ff00","#40ff00","#00ff00","#00ff70","#00ffc0","#00ffff","#0090ff"]}}}},
{"data":{"name":"wall"},"transform":[{"window":[{"op":"row_number","as":"seq"}]}],"mark":{"type":"line","filled":true},"encoding":{"order":{"field":"seq","type":"quantitative"},"color":{"field":"level","type":"nominal","legend":null,"scale":{
"domain":["w00","w01","w02","w03","w04","w05","w06","w07","w08","w09","w10","w11","w12","w13","w14","w15","w16"],
"range":["#ff0040","#ff0080","#ff00c0","#ff00ff","#aa00ff","#5500ff","#0000ff","#0055ff","#00aaff","#00ffff","#00ffaa","#00ff55","#00ff00","#55ff00","#aaff00","#ffff00","#ffc000"]}}}},
{"data":{"name":"cover"},"transform":[{"window":[{"op":"row_number","as":"seq"}]}],"mark":{"type":"line","filled":true,"color":"#ffffff"},"encoding":{"order":{"field":"seq","type":"quantitative"}}},
{"data":{"name":"holeGrid"},"transform":[{"window":[{"op":"row_number","as":"seq"}]}],"mark":{"type":"line","color":"#e2e2e2","strokeWidth":1.6},"encoding":{"detail":{"field":"g"},"order":{"field":"seq","type":"quantitative"}}},
{"data":{"name":"sliver"},"transform":[{"window":[{"op":"row_number","as":"seq"}]}],"mark":{"type":"line","filled":true},"encoding":{"order":{"field":"seq","type":"quantitative"},"color":{"field":"level","type":"nominal","legend":null,"scale":{
"domain":["s00","s01","s02","s03","s04","s05","s06","s07","s08","s09","s10"],
"range":["#ff0000","#ff2000","#ff4000","#ff6000","#ff8000","#ffa000","#ffc000","#ffe000","#ffff00","#c0ff00","#60ff00"]}}}},
{"data":{"name":"tip"},"transform":[{"window":[{"op":"row_number","as":"seq"}]}],"mark":{"type":"line","color":"#595959","strokeWidth":8,"strokeCap":"round"},"encoding":{"order":{"field":"seq","type":"quantitative"}}},
{"data":{"name":"frame"},"transform":[{"window":[{"op":"row_number","as":"seq"}]}],"mark":{"type":"line","color":"#595959","strokeWidth":21,"strokeCap":"round","strokeJoin":"round"},"encoding":{"detail":{"field":"g"},"order":{"field":"seq","type":"quantitative"}}},
{"data":{"name":"curve"},"transform":[{"window":[{"op":"row_number","as":"seq"}]}],"mark":{"type":"line","color":"#595959","strokeWidth":21,"strokeCap":"round","interpolate":"cardinal"},"encoding":{"order":{"field":"seq","type":"quantitative"}}},
{"data":{"name":"labels"},"mark":{"type":"text","font":"Liberation Sans","fontSize":26,"color":"#3c3c3c","align":"center","baseline":"middle"},"encoding":{"text":{"field":"text","type":"nominal"}}}
],
"resolve":{"scale":{"color":"independent"}}
}
